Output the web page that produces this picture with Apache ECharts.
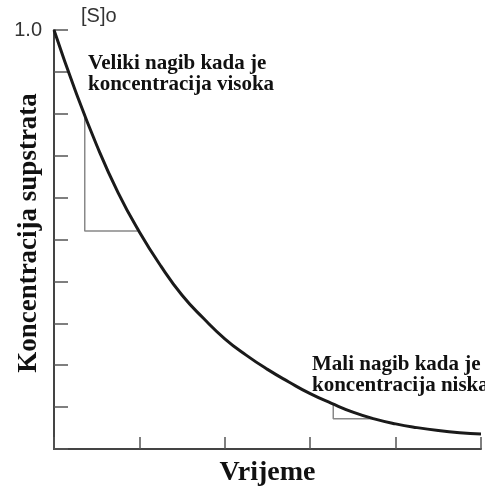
<!DOCTYPE html>
<html>
<head>
<meta charset="utf-8">
<script src="https://cdn.jsdelivr.net/npm/echarts@6/dist/echarts.min.js"></script>
<style>
  html, body { margin: 0; padding: 0; background: #fff; }
  #main { width: 485px; height: 490px; }
</style>
</head>
<body>
<div id="main"></div>
<script>
// vrijeme (x) i koncentracija (y), ocitano sa slike
const times = [0, 0.25, 0.5, 0.75, 1, 1.25, 1.5, 1.75, 2, 2.25, 2.5, 2.75, 3, 3.25, 3.5, 3.75, 4, 4.25, 4.5, 4.75, 5]
const concentration = [1.0, 0.855, 0.725, 0.612, 0.518, 0.437, 0.367, 0.312, 0.263, 0.224, 0.19, 0.16, 0.132, 0.109, 0.088, 0.072, 0.06, 0.051, 0.044, 0.039, 0.036]

// trokuti nagiba
const slopeHighX = [0.36, 0.36, 0.98]
const slopeHighY = [0.80, 0.52, 0.52]
const slopeLowX = [3.27, 3.27, 3.78]
const slopeLowY = [0.105, 0.072, 0.072]

const yTopLabel = '1.0'

const chartDom = document.getElementById('main')
const myChart = echarts.init(chartDom)

const pairs = (xs, ys) => xs.map((x, i) => [x, ys[i]])

const serif = '"Liberation Serif", "DejaVu Serif", serif'
const sans = '"Liberation Sans", Arial, sans-serif'

const option = {
  animation: false,
  grid: { left: 54, right: 4, top: 30, bottom: 41, containLabel: false, outerBoundsMode: 'none' },
  xAxis: {
    type: 'value',
    min: 0,
    max: 5,
    interval: 1,
    name: 'Vrijeme',
    nameLocation: 'middle',
    nameGap: 10,
    nameTextStyle: { fontFamily: serif, fontWeight: 'bold', fontSize: 28, color: '#111' },
    axisLine: { lineStyle: { color: '#444', width: 2 } },
    axisTick: { inside: true, length: 12, lineStyle: { color: '#555', width: 1.5 } },
    axisLabel: { show: false },
    splitLine: { show: false }
  },
  yAxis: {
    type: 'value',
    min: 0,
    max: 1,
    interval: 0.1,
    axisLine: { lineStyle: { color: '#444', width: 2 } },
    axisTick: { inside: true, length: 14, lineStyle: { color: '#555', width: 1.5 } },
    axisLabel: {
      margin: 12,
      fontFamily: sans,
      fontSize: 20,
      color: '#333',
      formatter: v => (v === 1 ? yTopLabel : '')
    },
    splitLine: { show: false }
  },
  graphic: [
    {
      type: 'text', x: 29, y: 233, rotation: Math.PI / 2,
      style: {
        text: 'Koncentracija supstrata', font: 'bold 27px ' + serif, fill: '#111',
        textAlign: 'center', textVerticalAlign: 'middle'
      }
    },
    {
      type: 'text', left: 81, top: 6,
      style: { text: '[S]o', font: '20px ' + sans, fill: '#333' }
    },
    {
      type: 'text', left: 88, top: 53,
      style: { text: 'Veliki nagib kada je\nkoncentracija visoka', font: 'bold 21px ' + serif, lineHeight: 21, fill: '#111' }
    },
    {
      type: 'text', left: 312, top: 354,
      style: { text: 'Mali nagib kada je\nkoncentracija niska', font: 'bold 21px ' + serif, lineHeight: 21, fill: '#111' }
    }
  ],
  series: [
    {
      type: 'line',
      data: pairs(slopeHighX, slopeHighY),
      symbol: 'none',
      lineStyle: { color: '#888', width: 1.5 },
      z: 1
    },
    {
      type: 'line',
      data: pairs(slopeLowX, slopeLowY),
      symbol: 'none',
      lineStyle: { color: '#888', width: 1.5 },
      z: 1
    },
    {
      type: 'line',
      data: pairs(times, concentration),
      smooth: true,
      symbol: 'none',
      lineStyle: { color: '#1a1a1a', width: 3 },
      z: 3
    }
  ]
}

myChart.setOption(option)
</script>
</body>
</html>
